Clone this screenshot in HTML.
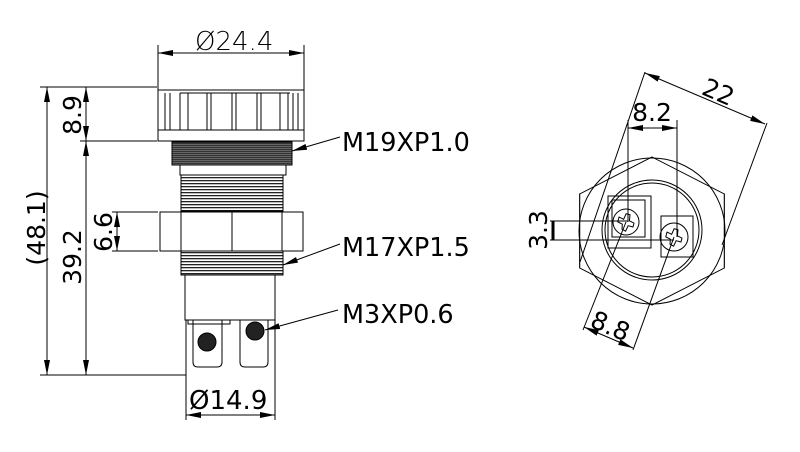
<!DOCTYPE html>
<html><head><meta charset="utf-8"><style>
html,body{margin:0;padding:0;background:#fff;}
svg{display:block;}
text{font-family:"DejaVu Sans","Liberation Sans",sans-serif;fill:#000;}
</style></head><body>
<svg width="800" height="452" viewBox="0 0 800 452" xmlns="http://www.w3.org/2000/svg">
<defs>
<marker id="a" viewBox="0 0 15 6" refX="15" refY="3" markerWidth="15" markerHeight="6" orient="auto-start-reverse" markerUnits="userSpaceOnUse"><path d="M0,0L15,3L0,6z" fill="#000"/></marker>
<pattern id="th" width="4" height="3" patternUnits="userSpaceOnUse"><rect width="4" height="3" fill="#fff"/><rect width="4" height="1.3" fill="#222"/></pattern>
<pattern id="th2" width="4" height="2" patternUnits="userSpaceOnUse"><rect width="4" height="2" fill="#333"/><rect width="4" height="0.6" fill="#888"/></pattern>
</defs>
<g stroke="#000" stroke-width="1" fill="none">
<line x1="40" y1="87" x2="157" y2="87"/>
<line x1="80" y1="141" x2="157" y2="141"/>
<line x1="40" y1="375" x2="186" y2="375"/>
<line x1="112" y1="212" x2="158" y2="212"/>
<line x1="112" y1="251" x2="158" y2="251"/>
<line x1="158" y1="45" x2="158" y2="90"/>
<line x1="304" y1="45" x2="304" y2="90"/>
<line x1="186" y1="320" x2="186" y2="420"/>
<line x1="275" y1="320" x2="275" y2="420"/>
<line x1="47" y1="87" x2="47" y2="375" marker-start="url(#a)" marker-end="url(#a)"/>
<line x1="86" y1="87" x2="86" y2="141" marker-start="url(#a)" marker-end="url(#a)"/>
<line x1="86" y1="141" x2="86" y2="375" marker-start="url(#a)" marker-end="url(#a)"/>
<line x1="117" y1="212" x2="117" y2="251" marker-start="url(#a)" marker-end="url(#a)"/>
<line x1="158" y1="53" x2="304" y2="53" marker-start="url(#a)" marker-end="url(#a)"/>
<line x1="186" y1="415" x2="275" y2="415" marker-start="url(#a)" marker-end="url(#a)"/>
<rect x="158" y="90" width="146" height="51"/>
<line x1="158" y1="130" x2="304" y2="130"/>
<path d="M165,93V130M170,93V130M180,93V130M188,93V130M207,93V130M211,93V130M232,93V130M236,93V130M257,93V130M261,93V130M280,93V130M288,93V130M293,93V130M298,93V130"/>
<line x1="180" y1="93" x2="290" y2="93"/>
<rect x="172" y="142" width="120" height="23" fill="url(#th2)"/>
<rect x="180" y="165" width="106" height="10" fill="#fff"/>
<rect x="181" y="175" width="102" height="36" fill="url(#th)"/>
<rect x="160" y="212" width="143" height="39" fill="#fff"/>
<line x1="181" y1="212" x2="181" y2="251"/>
<line x1="232" y1="212" x2="232" y2="251"/>
<line x1="282" y1="212" x2="282" y2="251"/>
<rect x="181" y="251" width="102" height="24" fill="url(#th)"/>
<rect x="185" y="275" width="90" height="45" fill="#fff"/>
<path d="M193,320V362Q193,367 198,367H217Q222,367 222,362V320"/>
<path d="M240,320V362Q240,367 245,367H263Q268,367 268,362V320"/>
<rect x="188" y="320" width="42" height="4"/>
<circle cx="207" cy="342" r="9" fill="#222"/>
<circle cx="255" cy="331" r="9" fill="#222"/>
<line x1="340" y1="137" x2="292" y2="151" marker-end="url(#a)"/>
<line x1="340" y1="244" x2="283" y2="265" marker-end="url(#a)"/>
<line x1="338" y1="310" x2="265" y2="330" marker-end="url(#a)"/>
</g>
<text x="195" y="50" font-size="26" font-weight="300">Ø24.4</text>
<text x="189" y="409" font-size="26">Ø14.9</text>
<text x="342" y="151" font-size="25.5">M19XP1.0</text>
<text x="342" y="256" font-size="25.5">M17XP1.5</text>
<text x="342" y="323" font-size="25.5">M3XP0.6</text>
<text font-size="25" text-anchor="middle" transform="translate(81,115) rotate(-90)">8.9</text>
<text font-size="25" text-anchor="middle" transform="translate(81,257) rotate(-90)">39.2</text>
<text font-size="25" text-anchor="middle" transform="translate(45,228) rotate(-90)">(48.1)</text>
<text font-size="25" text-anchor="middle" transform="translate(112,232) rotate(-90)">6.6</text>

<g stroke="#000" stroke-width="1" fill="none">
<circle cx="652" cy="231" r="73"/>
<polygon points="652,157 716,194 716,268 652,305 588,268 588,194" transform="translate(652,231) scale(1.13,1) translate(-652,-231)"/>
<circle cx="652" cy="230" r="50"/>
<circle cx="652" cy="230" r="47"/>
<rect x="608" y="196" width="43" height="52"/>
<rect x="612" y="200" width="33" height="37"/>
<circle cx="626" cy="222" r="13"/>
<path d="M618,219 L623,220 L624,214 L628,214 L629,220 L634,221 L634,225 L629,225 L628,231 L624,230 L623,225 L618,224Z" transform="rotate(15 626 222)"/>
<rect x="661" y="216" width="32" height="41"/>
<circle cx="674" cy="237" r="14"/>
<path d="M666,234 L671,235 L672,229 L676,229 L677,235 L682,236 L682,240 L677,240 L676,246 L672,245 L671,240 L666,239Z" transform="rotate(15 674 237)"/>
<line x1="628" y1="120" x2="628" y2="222"/>
<line x1="677" y1="120" x2="677" y2="237"/>
<line x1="628" y1="128" x2="677" y2="128" marker-start="url(#a)" marker-end="url(#a)"/>
<line x1="550" y1="221" x2="628" y2="221"/>
<line x1="550" y1="240" x2="674" y2="240"/>
<line x1="553" y1="221" x2="553" y2="240" stroke-width="3"/>
<line x1="645" y1="72" x2="580" y2="262"/>
<line x1="767" y1="123" x2="722" y2="245"/>
<line x1="645" y1="73" x2="765" y2="124" marker-start="url(#a)" marker-end="url(#a)"/>
<line x1="583" y1="330" x2="626" y2="222"/>
<line x1="633" y1="350" x2="674" y2="237"/>
<line x1="584" y1="327" x2="633" y2="348" marker-start="url(#a)" marker-end="url(#a)"/>
</g>
<text x="652" y="121" font-size="25" text-anchor="middle">8.2</text>
<text font-size="25" text-anchor="middle" transform="translate(715,100) rotate(23)">22</text>
<text font-size="25" text-anchor="middle" transform="translate(607,334) rotate(23)">8.8</text>
<text font-size="25" text-anchor="middle" transform="translate(547,230) rotate(-90)">3.3</text>
</svg>
</body></html>
